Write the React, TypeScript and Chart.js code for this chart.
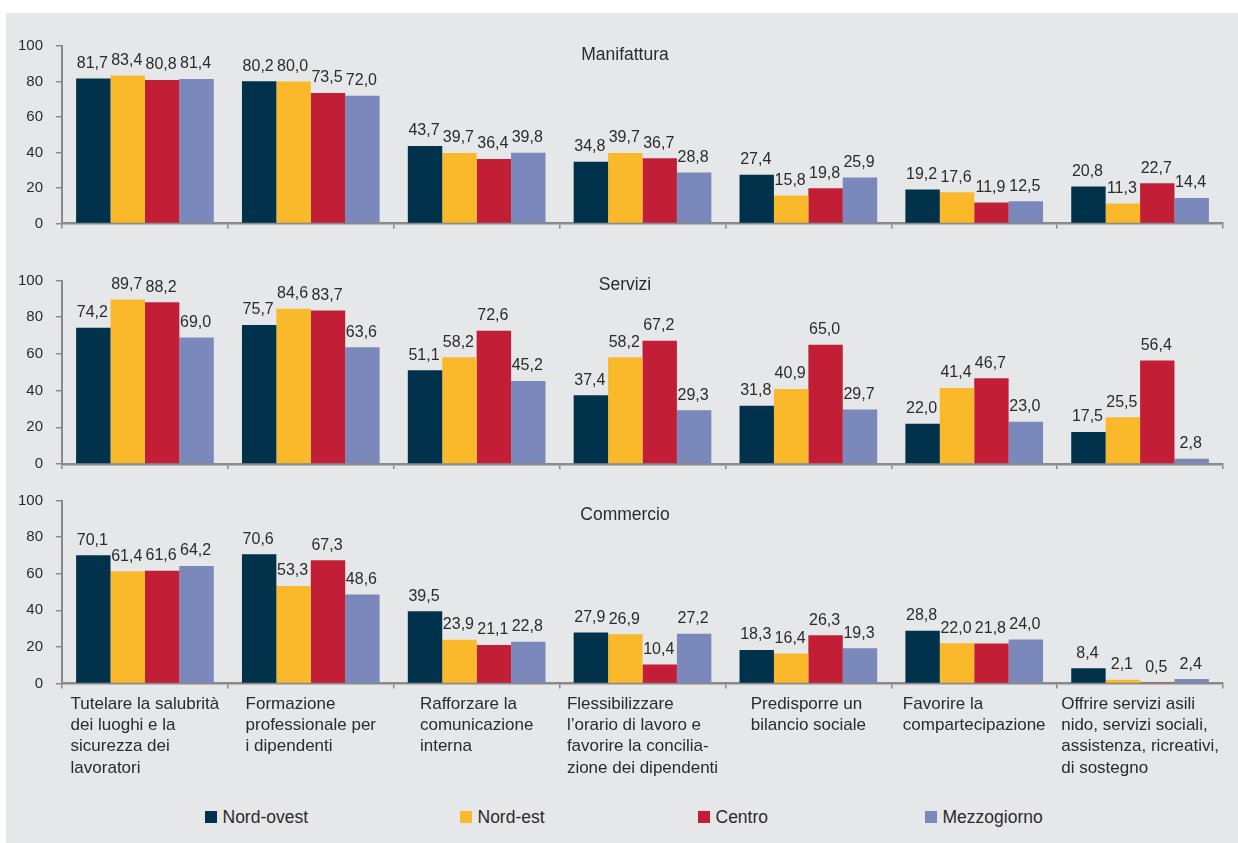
import React, { useEffect, useRef } from "react";
import { Chart, registerables } from "chart.js";

Chart.register(...registerables);

const categories: string[][] = [
  ["Tutelare la salubrità", "dei luoghi e la", "sicurezza dei", "lavoratori"],
  ["Formazione", "professionale per", "i dipendenti"],
  ["Rafforzare la", "comunicazione", "interna"],
  ["Flessibilizzare", "l’orario di lavoro e", "favorire la concilia-", "zione dei dipendenti"],
  ["Predisporre un", "bilancio sociale"],
  ["Favorire la", "compartecipazione"],
  ["Offrire servizi asili", "nido, servizi sociali,", "assistenza, ricreativi,", "di sostegno"],
];

const seriesNames = ["Nord-ovest", "Nord-est", "Centro", "Mezzogiorno"];
const seriesColors = ["#00324b", "#f9b92a", "#c21f37", "#7b88bb"];

const panelTitles = ["Manifattura", "Servizi", "Commercio"];

// Manifattura
const manNordOvest = [81.7, 80.2, 43.7, 34.8, 27.4, 19.2, 20.8];
const manNordEst = [83.4, 80.0, 39.7, 39.7, 15.8, 17.6, 11.3];
const manCentro = [80.8, 73.5, 36.4, 36.7, 19.8, 11.9, 22.7];
const manMezzogiorno = [81.4, 72.0, 39.8, 28.8, 25.9, 12.5, 14.4];

// Servizi
const serNordOvest = [74.2, 75.7, 51.1, 37.4, 31.8, 22.0, 17.5];
const serNordEst = [89.7, 84.6, 58.2, 58.2, 40.9, 41.4, 25.5];
const serCentro = [88.2, 83.7, 72.6, 67.2, 65.0, 46.7, 56.4];
const serMezzogiorno = [69.0, 63.6, 45.2, 29.3, 29.7, 23.0, 2.8];

// Commercio
const comNordOvest = [70.1, 70.6, 39.5, 27.9, 18.3, 28.8, 8.4];
const comNordEst = [61.4, 53.3, 23.9, 26.9, 16.4, 22.0, 2.1];
const comCentro = [61.6, 67.3, 21.1, 10.4, 26.3, 21.8, 0.5];
const comMezzogiorno = [64.2, 48.6, 22.8, 27.2, 19.3, 24.0, 2.4];

const yTicks = [0, 20, 40, 60, 80, 100];

const FONT = '"Liberation Sans", Arial, Helvetica, sans-serif';
const TEXT = "#2b2b2b";
const AXIS = "#8a8a8a";
const W = 1238;

type PanelCfg = {
  title: string;
  series: number[][];
  canvasTop: number;
  canvasHeight: number;
  plotTop: number;
  plotBottom: number;
  titleY: number;
  showLabels: boolean;
};

const panels: PanelCfg[] = [
  { title: panelTitles[0], series: [manNordOvest, manNordEst, manCentro, manMezzogiorno], canvasTop: 0, canvasHeight: 240, plotTop: 46, plotBottom: 223.5, titleY: 55, showLabels: false },
  { title: panelTitles[1], series: [serNordOvest, serNordEst, serCentro, serMezzogiorno], canvasTop: 240, canvasHeight: 240, plotTop: 280.5, plotBottom: 464, titleY: 285, showLabels: false },
  { title: panelTitles[2], series: [comNordOvest, comNordEst, comCentro, comMezzogiorno], canvasTop: 480, canvasHeight: 320, plotTop: 500.5, plotBottom: 683.5, titleY: 515, showLabels: true },
];

const PLOT_LEFT = 62;
const PLOT_RIGHT = 1223;

function Panel({ cfg }: { cfg: PanelCfg }) {
  const ref = useRef<HTMLCanvasElement | null>(null);
  useEffect(() => {
    if (!ref.current) return;
    const top = cfg.plotTop - cfg.canvasTop;
    const bottom = cfg.plotBottom - cfg.canvasTop;
    const xHeight = cfg.canvasHeight - bottom;

    const overlay = {
      id: "overlay",
      afterDatasetsDraw(chart: any) {
        const ctx = chart.ctx;
        ctx.save();
        ctx.fillStyle = TEXT;
        ctx.textAlign = "center";
        ctx.textBaseline = "middle";
        ctx.font = `16px ${FONT}`;
        chart.data.datasets.forEach((ds: any, i: number) => {
          const meta = chart.getDatasetMeta(i);
          meta.data.forEach((el: any, j: number) => {
            const v = ds.data[j] as number;
            ctx.fillText(v.toFixed(1).replace(".", ","), el.x - 1, el.y - 15);
          });
        });
        // title
        ctx.font = `17.5px ${FONT}`;
        ctx.fillText(cfg.title, 625, cfg.titleY - cfg.canvasTop);
        // category labels
        if (cfg.showLabels) {
          const xs = chart.scales.x;
          ctx.font = `17px ${FONT}`;
          ctx.textAlign = "left";
          categories.forEach((lines, k) => {
            const cx = xs.getPixelForValue(k);
            const wMax = Math.max(...lines.map((l) => ctx.measureText(l).width));
            const left = cx - wMax / 2;
            lines.forEach((l, n) => {
              ctx.fillText(l, left, 704 - cfg.canvasTop + n * 21.3);
            });
          });
        }
        ctx.restore();
      },
    };

    const chart = new Chart(ref.current, {
      type: "bar",
      data: {
        labels: categories.map((c) => c.join(" ")),
        datasets: cfg.series.map((s, i) => ({
          label: seriesNames[i],
          data: s,
          backgroundColor: seriesColors[i],
          borderWidth: 0,
          barPercentage: 1,
          categoryPercentage: 0.83,
        })),
      },
      options: {
        responsive: false,
        animation: false,
        devicePixelRatio: 1,
        layout: { padding: { top, left: 0, right: W - PLOT_RIGHT, bottom: 0 } },
        plugins: { legend: { display: false }, tooltip: { enabled: false }, title: { display: false } },
        scales: {
          x: {
            offset: true,
            grid: { display: true, drawOnChartArea: false, drawTicks: true, tickLength: 5, color: AXIS, lineWidth: 1.5, offset: true },
            border: { display: true, color: AXIS, width: 2.5 },
            ticks: { display: false },
            afterFit: (s: any) => {
              s.height = xHeight;
              s.paddingLeft = 0;
              s.paddingRight = 0;
            },
          },
          y: {
            min: 0,
            max: 100,
            afterBuildTicks: (s: any) => {
              s.ticks = yTicks.map((v) => ({ value: v }));
            },
            grid: { display: true, drawOnChartArea: false, drawTicks: true, tickLength: 6, color: AXIS, lineWidth: 1.5 },
            border: { display: true, color: AXIS, width: 2 },
            ticks: { color: TEXT, font: { family: FONT, size: 15 }, padding: 13 },
            afterFit: (s: any) => {
              s.width = PLOT_LEFT;
              s.paddingTop = 0;
              s.paddingBottom = 0;
            },
          },
        },
      },
      plugins: [overlay],
    });
    return () => chart.destroy();
  }, [cfg]);
  return (
    <canvas
      ref={ref}
      width={W}
      height={cfg.canvasHeight}
      style={{ position: "absolute", left: 0, top: cfg.canvasTop, width: W, height: cfg.canvasHeight }}
    />
  );
}

const legendX = [205, 460, 698, 925];

export default function App() {
  return (
    <div style={{ position: "absolute", left: 0, top: 0, width: W, height: 843, background: "#fff", overflow: "hidden" }}>
      <div style={{ position: "absolute", left: 6, top: 13, right: 0, bottom: 0, background: "#e6e7e9" }} />
      {panels.map((p, i) => (
        <Panel key={i} cfg={p} />
      ))}
      {seriesNames.map((n, i) => (
        <div key={n}>
          <div style={{ position: "absolute", left: legendX[i], top: 811, width: 12, height: 12, background: seriesColors[i] }} />
          <div
            style={{
              position: "absolute",
              left: legendX[i] + 17.5,
              top: 806,
              height: 22,
              lineHeight: "22px",
              fontFamily: FONT,
              fontSize: 17.5,
              color: TEXT,
              whiteSpace: "nowrap",
            }}
          >
            {n}
          </div>
        </div>
      ))}
    </div>
  );
}
